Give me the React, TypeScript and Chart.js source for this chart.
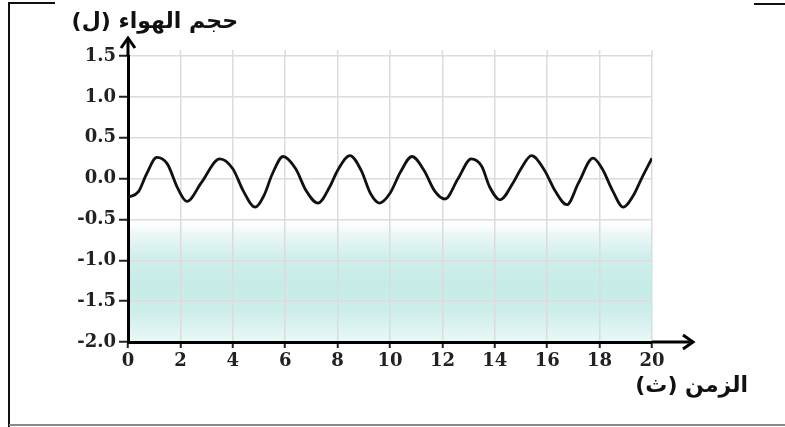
import React, { useEffect, useRef } from "react";
import { Chart, registerables } from "chart.js";

Chart.register(...registerables);

const times: number[] = [
  0, 0.4, 0.7, 1.1, 1.5, 1.9, 2.25, 2.8, 3.5, 4.0, 4.4, 4.85, 5.2, 5.5, 5.92,
  6.4, 6.8, 7.25, 7.7, 8.0, 8.47, 8.9, 9.25, 9.6, 10.0, 10.4, 10.84, 11.3, 11.7,
  12.1, 12.6, 13.1, 13.5, 13.8, 14.2, 14.7, 15.0, 15.4, 15.9, 16.3, 16.75, 17.2,
  17.75, 18.1, 18.5, 18.9, 19.3, 19.6, 20,
];
const volumes: number[] = [
  -0.23, -0.16, 0.05, 0.26, 0.18, -0.12, -0.28, -0.05, 0.24, 0.12, -0.15, -0.35,
  -0.2, 0.05, 0.27, 0.12, -0.15, -0.3, -0.1, 0.1, 0.28, 0.1, -0.18, -0.3, -0.18,
  0.08, 0.27, 0.1, -0.15, -0.25, 0.0, 0.24, 0.15, -0.1, -0.26, -0.05, 0.12, 0.28,
  0.1, -0.15, -0.32, -0.05, 0.25, 0.12, -0.15, -0.35, -0.2, 0.0, 0.25,
];
const xTicks: number[] = [0, 2, 4, 6, 8, 10, 12, 14, 16, 18, 20];
const yTicks: number[] = [-2.0, -1.5, -1.0, -0.5, 0.0, 0.5, 1.0, 1.5];
const yTitle = "حجم الهواء (ل)";
const xTitle = "الزمن (ث)";
const shadeFrom = -0.5;
const shadeTo = -2.0;

const decorPlugin = {
  id: "decor",
  beforeDraw(chart: any) {
    const { ctx, chartArea, scales } = chart;
    const y = scales.y;
    const top = y.getPixelForValue(shadeFrom);
    const bot = y.getPixelForValue(shadeTo);
    const g = ctx.createLinearGradient(0, top, 0, bot);
    g.addColorStop(0, "rgba(255,255,255,0)");
    g.addColorStop(0.1, "rgba(238,249,248,1)");
    g.addColorStop(0.3, "rgba(208,239,236,1)");
    g.addColorStop(0.55, "rgba(198,236,232,1)");
    g.addColorStop(0.75, "rgba(205,238,235,1)");
    g.addColorStop(1, "rgba(235,248,247,1)");
    ctx.save();
    ctx.fillStyle = g;
    ctx.fillRect(chartArea.left, top, chartArea.right - chartArea.left, bot - top);
    ctx.strokeStyle = "#dcdcdc";
    ctx.lineWidth = 1.5;
    const xs = scales.x;
    xTicks.forEach((v) => {
      if (v === 0) return;
      const px = xs.getPixelForValue(v);
      ctx.beginPath();
      ctx.moveTo(px, chartArea.top);
      ctx.lineTo(px, chartArea.top - 6);
      ctx.stroke();
    });
    ctx.restore();
  },
  afterDraw(chart: any) {
    const { ctx, chartArea } = chart;
    ctx.save();
    ctx.strokeStyle = "#111";
    ctx.lineWidth = 2;
    ctx.beginPath();
    ctx.moveTo(9, 427);
    ctx.lineTo(9, 3);
    ctx.lineTo(55, 3);
    ctx.stroke();
    ctx.beginPath();
    ctx.moveTo(754, 4);
    ctx.lineTo(785, 4);
    ctx.stroke();
    ctx.strokeStyle = "#888";
    ctx.lineWidth = 2;
    ctx.beginPath();
    ctx.moveTo(9, 425);
    ctx.lineTo(785, 425);
    ctx.stroke();

    ctx.strokeStyle = "#000";
    ctx.fillStyle = "#000";
    ctx.lineWidth = 3;
    const x0 = chartArea.left;
    const yb = chartArea.bottom;
    ctx.beginPath();
    ctx.moveTo(x0, chartArea.top);
    ctx.lineTo(x0, 41);
    ctx.stroke();
    ctx.beginPath();
    ctx.moveTo(x0 - 7, 48);
    ctx.lineTo(x0, 38);
    ctx.lineTo(x0 + 7, 48);
    ctx.stroke();
    ctx.beginPath();
    ctx.moveTo(chartArea.right, yb);
    ctx.lineTo(690, yb);
    ctx.stroke();
    ctx.beginPath();
    ctx.moveTo(683, yb - 7);
    ctx.lineTo(693, yb);
    ctx.lineTo(683, yb + 7);
    ctx.stroke();

    ctx.fillStyle = "#111";
    ctx.direction = "rtl";
    ctx.textAlign = "right";
    ctx.textBaseline = "middle";
    ctx.font = "bold 22px 'DejaVu Sans'";
    ctx.fillText(yTitle, 238, 22);
    ctx.fillText(xTitle, 748, 386);
    ctx.restore();
  },
};

export default function App() {
  const ref = useRef<HTMLCanvasElement | null>(null);
  useEffect(() => {
    document.body.style.margin = "0";
    const canvas = ref.current!;
    const chart = new Chart(canvas, {
      type: "line",
      data: {
        datasets: [
          {
            data: times.map((t, i) => ({ x: t, y: volumes[i] })),
            borderColor: "#111",
            borderWidth: 2.8,
            pointRadius: 0,
            cubicInterpolationMode: "monotone",
            fill: false,
          },
        ],
      },
      options: {
        animation: false,
        responsive: false,
        devicePixelRatio: 1,
        layout: { padding: { left: 0, right: 133, top: 56, bottom: 0 } },
        plugins: { legend: { display: false }, tooltip: { enabled: false } },
        scales: {
          x: {
            type: "linear",
            min: 0,
            max: 20,
            afterFit(scale: any) {
              scale.height = 85;
            },
            afterBuildTicks(scale: any) {
              scale.ticks = xTicks.map((v) => ({ value: v }));
            },
            ticks: {
              color: "#222",
              padding: 3,
              font: { family: "'DejaVu Serif'", weight: "bold", size: 18 },
              maxRotation: 0,
              callback: (v: any) => String(v),
            },
            grid: {
              color: "#dcdcdc",
              lineWidth: 1.5,
              tickColor: "#222",
              tickLength: 6,
              tickWidth: 2,
            },
            border: { color: "#000", width: 3 },
          },
          y: {
            min: -2,
            max: 1.5,
            afterFit(scale: any) {
              scale.width = 128;
            },
            afterBuildTicks(scale: any) {
              scale.ticks = yTicks.map((v) => ({ value: v }));
            },
            ticks: {
              color: "#222",
              padding: 3,
              font: { family: "'DejaVu Serif'", weight: "bold", size: 18 },
              callback: (v: any) => Number(v).toFixed(1),
            },
            grid: {
              color: "#dcdcdc",
              lineWidth: 1.5,
              tickColor: "#222",
              tickLength: 9,
              tickWidth: 2,
            },
            border: { color: "#000", width: 3 },
          },
        },
      },
      plugins: [decorPlugin],
    } as any);
    return () => chart.destroy();
  }, []);
  return <canvas ref={ref} width={785} height={427} style={{ display: "block" }} />;
}
